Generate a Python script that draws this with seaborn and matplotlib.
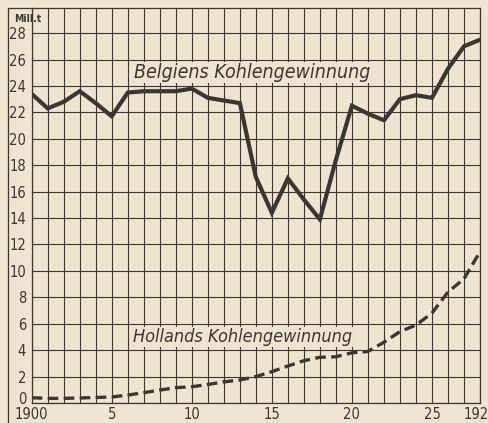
import pandas as pd
import matplotlib
matplotlib.use('Agg')
import matplotlib.pyplot as plt
import matplotlib.transforms as mtransforms
from matplotlib.lines import Line2D
import seaborn as sns

# data (Mill. t)
years = list(range(1900, 1929))
belgien = [23.4, 22.3, 22.8, 23.6, 22.7, 21.7, 23.5, 23.6, 23.6, 23.6,
           23.8, 23.1, 22.9, 22.7, 17.1, 14.4, 17.0, 15.4, 13.9, 18.4,
           22.5, 21.9, 21.4, 23.0, 23.3, 23.1, 25.3, 27.0, 27.5]
holland = [0.4, 0.35, 0.35, 0.38, 0.42, 0.45, 0.6, 0.78, 0.98, 1.16,
           1.23, 1.4, 1.6, 1.74, 2.0, 2.37, 2.8, 3.2, 3.46, 3.5,
           3.8, 3.9, 4.6, 5.4, 5.9, 6.8, 8.4, 9.4, 11.45]
y_ticks = list(range(0, 29, 2))
x_tick_labels = {1900: '1900', 1905: '5', 1910: '10', 1915: '15',
                 1920: '20', 1925: '25', 1928: '1928'}

paper = '#eee4cf'
ink = '#3a3632'

sns.set_style('white', {'axes.facecolor': paper, 'figure.facecolor': paper})
plt.rcParams['font.family'] = ['DejaVu Sans']

df = pd.DataFrame({'Jahr': years, 'Belgien': belgien, 'Holland': holland})

fig = plt.figure(figsize=(4.89, 4.23), dpi=100)
ax = fig.add_axes([31.7 / 489, 20 / 423, (480 - 31.7) / 489, (403 - 8) / 423])

sns.lineplot(data=df, x='Jahr', y='Belgien', ax=ax, color=ink, linewidth=3.0,
             solid_joinstyle='miter', zorder=3)
sns.lineplot(data=df, x='Jahr', y='Holland', ax=ax, color=ink, linewidth=2.4,
             dashes=False, zorder=3)
ax.lines[-1].set_dashes((3.2, 1.6))

ax.set_xlim(1900, 1928)
ax.set_ylim(0, 29.9)
ax.set_xticks(years)
ax.set_xticklabels([x_tick_labels.get(y, '') for y in years])
ax.set_yticks(y_ticks)
ax.set_yticklabels([str(v) for v in y_ticks])
ax.tick_params(length=0, colors=ink, labelsize=10.5, pad=4)
ax.tick_params(axis='x', pad=3)
for lab in ax.get_xticklabels() + ax.get_yticklabels():
    lab.set_fontstretch('condensed')
# lift the '0' label clear of '1900', as in the original
zero = ax.get_yticklabels()[0]
zero.set_transform(zero.get_transform() +
                   mtransforms.ScaledTranslation(0, 5 / 100, fig.dpi_scale_trans))
ax.grid(True, color=ink, linewidth=0.8)
for s in ax.spines.values():
    s.set_color(ink)
    s.set_linewidth(0.9)
ax.set_xlabel('')
ax.set_ylabel('')

ax.text(1913.8, 25.0, 'Belgiens Kohlengewinnung', ha='center', va='center',
        fontsize=14, style='italic', fontstretch='condensed', color=ink, zorder=4,
        bbox=dict(facecolor=paper, edgecolor='none', pad=0.5))
ax.text(1913.15, 5.0, 'Hollands Kohlengewinnung', ha='center', va='center',
        fontsize=13, style='italic', fontstretch='condensed', color=ink, zorder=4,
        bbox=dict(facecolor=paper, edgecolor='none', pad=0.5))

# outer frame left of the tick labels and 'Mill.t' unit
fig.add_artist(Line2D([8 / 489, 8 / 489], [0, (423 - 8) / 423],
                      transform=fig.transFigure, color=ink, linewidth=0.9))
fig.add_artist(Line2D([8 / 489, 31.7 / 489], [(423 - 8) / 423, (423 - 8) / 423],
                      transform=fig.transFigure, color=ink, linewidth=0.9))
fig.text(28 / 489, (423 - 19) / 423, 'Mill.t', ha='center', va='center',
         fontsize=7.5, fontweight='bold', fontstretch='condensed', color=ink)

fig.savefig('out.png', dpi=100, facecolor=paper)
